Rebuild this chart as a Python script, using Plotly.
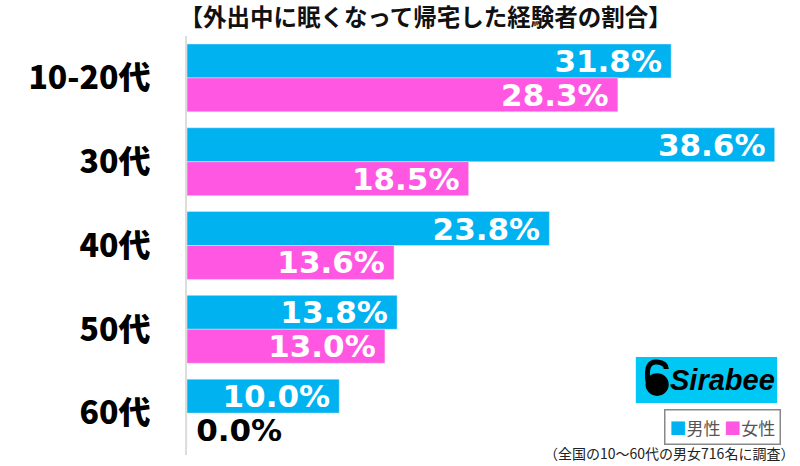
import plotly.graph_objects as go

categories = ['10-20代', '30代', '40代', '50代', '60代']
male = [31.8, 38.6, 23.8, 13.8, 10.0]
female = [28.3, 18.5, 13.6, 13.0, 0.0]

MALE_COLOR = '#00B2F0'
FEMALE_COLOR = '#FF57E2'
FONT = 'Noto Sans CJK JP'
NUM_FONT = 'DejaVu Sans'
THIN = '\u2009'


def add_series(fig, vals, name, color):
  # thin spaces keep the labels a little off the bar end / axis, like the original
  texts = [('%.1f%%' % v) + THIN if v > 0 else THIN + '%.1f%%' % v for v in vals]
  fig.add_trace(go.Bar(
    y=categories, x=vals, name=name, orientation='h',
    marker_color=color, text=texts,
    textposition=['inside' if v > 0 else 'outside' for v in vals],
    insidetextanchor='end', textangle=0, constraintext='none',
    textfont=dict(size=31, family=NUM_FONT, weight='bold',
                  color=['white' if v > 0 else 'black' for v in vals]),
    cliponaxis=False))


fig = go.Figure()
add_series(fig, male, '男性', MALE_COLOR)
add_series(fig, female, '女性', FEMALE_COLOR)

fig.update_layout(
  width=800, height=466,
  barmode='group', bargap=0.19, bargroupgap=0,
  plot_bgcolor='white', paper_bgcolor='white',
  margin=dict(l=187, r=4, t=36, b=11),
  font=dict(family=FONT, color='black'),
  showlegend=False,
  title=dict(text='【外出中に眠くなって帰宅した経験者の割合】',
             x=0.532, xanchor='center', y=0.961, yanchor='middle',
             font=dict(size=23.5, color='#111', weight='bold')),
)
fig.update_xaxes(range=[0, 40], visible=False, fixedrange=True)
fig.update_yaxes(autorange='reversed', showline=True, linecolor='#dddddd', linewidth=2,
                 ticks='', ticklabelstandoff=28, fixedrange=True,
                 tickfont=dict(size=32, family=FONT, weight=900, color='black'))

# Sirabee logo
fig.add_shape(type='rect', xref='paper', yref='paper', x0=0.737, x1=0.969, y0=0.124, y1=0.234,
              fillcolor='#00C8F5', line_width=0, layer='above')
fig.add_shape(type='circle', xref='paper', yref='paper', x0=0.753, x1=0.791, y0=0.141, y1=0.195,
              fillcolor='black', line_width=0, layer='above')
fig.add_shape(type='path', xref='paper', yref='paper',
              path='M 0.757,0.175 Q 0.752,0.225 0.772,0.222 Q 0.787,0.220 0.787,0.205',
              line=dict(color='black', width=5), layer='above')
fig.add_annotation(xref='paper', yref='paper', x=0.880, y=0.179, xanchor='center', yanchor='middle',
                   text='<b><i>Sirabee</i></b>', showarrow=False,
                   font=dict(size=29, family='Liberation Sans, Arial, sans-serif', color='black'))

# legend box
fig.add_annotation(xref='paper', yref='paper', x=0.880, y=0.066, xanchor='center', yanchor='middle',
                   text='<span style="color:%s">■</span>男性 <span style="color:%s">■</span>女性'
                        % (MALE_COLOR, FEMALE_COLOR),
                   showarrow=False, bordercolor='#888', borderwidth=1.5, borderpad=4,
                   bgcolor='white', font=dict(size=17, color='#555'))

fig.add_annotation(xref='paper', yref='paper', x=1.0, y=-0.025, xanchor='right', yanchor='bottom',
                   text='（全国の10〜60代の男女716名に調査）', showarrow=False,
                   font=dict(size=14, color='#222'))

fig.write_html('out.html', config={'displayModeBar': False},
               post_script="document.body.style.margin='0';")
